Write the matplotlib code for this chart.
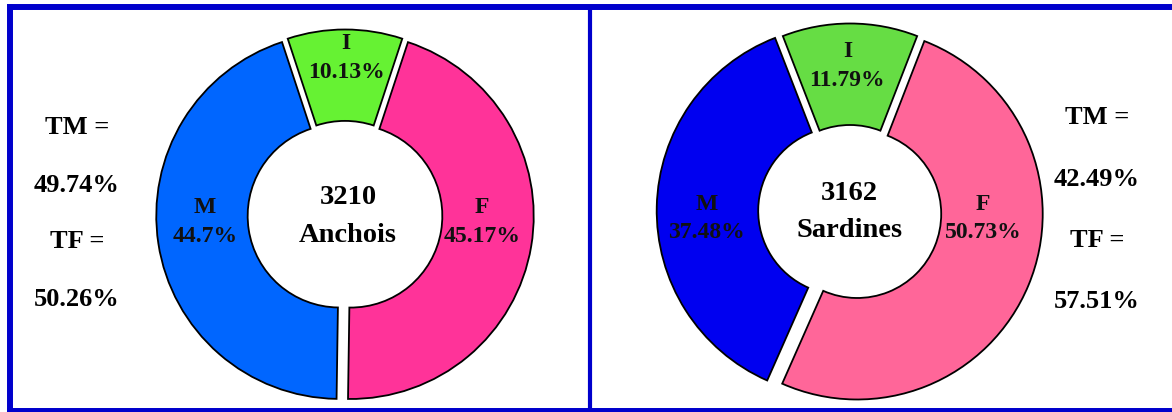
import matplotlib
matplotlib.use("Agg")
import matplotlib.pyplot as plt

# ---------------- data ----------------
categories = ["I", "M", "F"]
anchois_pct = [10.13, 44.7, 45.17]
sardines_pct = [11.79, 37.48, 50.73]
totals = [3210, 3162]
species = ["Anchois", "Sardines"]
tm_values = [49.74, 42.49]
tf_values = [50.26, 57.51]

anchois_colors = ["#66F233", "#0066FF", "#FF3399"]
sardines_colors = ["#66DD44", "#0000F0", "#FF6699"]

# ---------------- layout ----------------
W, H, DPI = 1172, 412, 100
plt.rcParams['font.family'] = ['Liberation Serif', 'DejaVu Serif']
plt.rcParams['font.weight'] = 'bold'

fig = plt.figure(figsize=(W / DPI, H / DPI), dpi=DPI)
fig.patch.set_facecolor("white")
bg = fig.add_axes([0, 0, 1, 1])
bg.set_xlim(0, W)
bg.set_ylim(H, 0)
bg.axis("off")

frame_color = "#0000CC"
bg.plot([10, 10], [4, 412], color=frame_color, lw=4.3, solid_capstyle="butt")
bg.plot([7, W], [7, 7], color=frame_color, lw=4.3, solid_capstyle="butt")
bg.plot([7, W], [411, 411], color=frame_color, lw=4.3, solid_capstyle="butt")
bg.plot([590, 590], [7, 411], color=frame_color, lw=3.0, solid_capstyle="butt")


def add_donut(cx, cy, r_px, rin_px, pcts, colors, shift_px):
    L = 1.3
    S = 2 * L * r_px
    ax = fig.add_axes([(cx - S / 2) / W, (H - cy - S / 2) / H, S / W, S / H])
    start = 90 - pcts[0] * 3.6 / 2
    ax.pie(pcts, colors=colors, startangle=start, counterclock=True,
           explode=[s / r_px for s in shift_px], radius=1,
           wedgeprops=dict(width=1 - rin_px / r_px, edgecolor="black",
                           linewidth=1.3))
    ax.set_xlim(-L, L)
    ax.set_ylim(-L, L)
    ax.set_aspect("equal")
    ax.axis("off")
    return ax


add_donut(345, 215, 183, 91.6, anchois_pct, anchois_colors, [2.5, 5.8, 5.8])
add_donut(850, 211, 185.5, 84, sardines_pct, sardines_colors, [2.0, 7.8, 7.8])

# text overlay on top of the donuts
tx = fig.add_axes([0, 0, 1, 1])
tx.set_xlim(0, W)
tx.set_ylim(H, 0)
tx.axis("off")

LBL = 17
CEN = 20.5
SIDE = 19


def wedge_label(x, y1, y2, name, pct):
    tx.text(x, y1, name, fontsize=LBL, ha="center", va="baseline",
            fontweight="bold", color="#111111")
    tx.text(x, y2, f"{pct:g}%", fontsize=LBL, ha="center", va="baseline",
            fontweight="bold", color="#111111")


left_label_pos = [(346, 49.3, 78.3), (205, 213, 241.7), (482, 213, 241.7)]
for (x, y1, y2), name, pct in zip(left_label_pos, categories, anchois_pct):
    wedge_label(x, y1, y2, name, pct)

right_label_pos = [(847.3, 56.7, 86), (706.7, 210, 238.3), (983.3, 210, 238.3)]
for (x, y1, y2), name, pct in zip(right_label_pos, categories, sardines_pct):
    wedge_label(x, y1, y2, name, pct)

center_pos = [(348, 204.3, 241.7), (849.3, 200, 236.7)]
for (x, y1, y2), tot, sp in zip(center_pos, totals, species):
    tx.text(x, y1, str(tot), fontsize=CEN, ha="center", va="baseline",
            fontweight="bold", color="black")
    tx.text(x, y2, sp, fontsize=CEN, ha="center", va="baseline",
            fontweight="bold", color="black")

side_pos = [(77, [133.5, 191.5, 247.5, 305.5]), (1097, [123.5, 185.5, 246.5, 308.5])]
for (x, ys), tm, tf in zip(side_pos, tm_values, tf_values):
    texts = ["TM =", f"{tm:.2f}%", "TF =", f"{tf:.2f}%"]
    for y, t in zip(ys, texts):
        tx.text(x, y, t, fontsize=SIDE, ha="center", va="baseline",
                fontweight="bold", color="black")

fig.savefig("out.png", dpi=DPI, facecolor="white")
